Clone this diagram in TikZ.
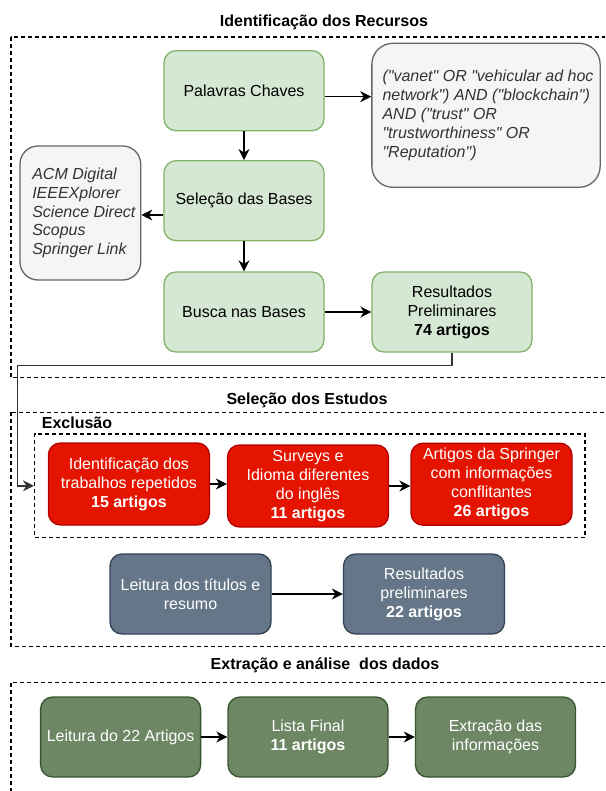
\documentclass[tikz,border=0pt]{standalone}
\usepackage{fontspec}
\setmainfont{Liberation Sans}[Ligatures=TeXOff]
\usetikzlibrary{arrows.meta}
\definecolor{lgfill}{HTML}{D5E8D4}\definecolor{lgdraw}{HTML}{82B366}
\definecolor{gyfill}{HTML}{F5F5F5}\definecolor{gydraw}{HTML}{666666}\definecolor{gytext}{HTML}{333333}
\definecolor{rdfill}{HTML}{E51400}\definecolor{rddraw}{HTML}{B20000}
\definecolor{slfill}{HTML}{647687}\definecolor{sldraw}{HTML}{314354}
\definecolor{dgfill}{HTML}{6D8764}\definecolor{dgdraw}{HTML}{3A5431}
\begin{document}
\begin{tikzpicture}[x=1pt,y=-1pt,
  base/.style={rounded corners=12pt, line width=1.3pt, minimum width=160pt, minimum height=80pt,
    inner sep=2pt, align=center, font=\fontsize{16}{19}\selectfont},
  lgbox/.style={base, fill=lgfill, draw=lgdraw, text=black},
  gybox/.style={base, fill=gyfill, draw=gydraw, text=gytext, align=left,
    font=\fontsize{16}{18.8}\selectfont\itshape},
  rdbox/.style={base, fill=rdfill, draw=rddraw, text=white, minimum width=161pt, minimum height=82pt},
  slbox/.style={base, fill=slfill, draw=sldraw, text=white, minimum width=161pt},
  dgbox/.style={base, fill=dgfill, draw=dgdraw, text=white},
  arr/.style={line width=1.3pt, -{Stealth[length=11pt,width=11pt,inset=3.5pt]}},
  frame/.style={draw=black, line width=1.1pt, dash pattern=on 4pt off 3pt},
  ttl/.style={font=\fontsize{16}{19}\selectfont\bfseries, inner sep=0pt}
]
\useasboundingbox (0,0) rectangle (605,791);
\clip (0,0) rectangle (605,791);

% section frames
\draw[frame] (11,37) rectangle (640,377.7);
\draw[frame] (11,412.3) rectangle (640,646.7);
\draw[frame] (11,682.7) rectangle (640,830);

% titles
\node[ttl] (t1) at (324,22.7) {Identificação dos Recursos};
\node[ttl] (t2) at (307,400) {Seleção dos Estudos};
\node[ttl] (t3) at (325,665) {Extração e análise\ \ dos dados};
\node[ttl, anchor=west] (t4) at (41.7,422.3) {Exclusão};

% identification
\node[lgbox] (pc) at (244,90.7) {Palavras Chaves};
\node[gybox, minimum width=228.3pt, minimum height=144pt, rounded corners=21pt] (query) at (486,115.3)
  {\hspace*{4pt}("vanet" OR "vehicular ad hoc\\\hspace*{4pt}network") AND ("blockchain")\\\hspace*{4pt}AND ("trust" OR\\\hspace*{4pt}"trustworthiness" OR\\\hspace*{4pt}"Reputation")};
\node[lgbox] (sel) at (244,200.7) {Seleção das Bases};
\node[gybox, minimum width=120.7pt, minimum height=134pt, rounded corners=18pt] (acm) at (80.35,213)
  {\hspace*{7pt}ACM Digital\\\hspace*{7pt}IEEEXplorer\\\hspace*{7pt}Science Direct\\\hspace*{7pt}Scopus\\\hspace*{7pt}Springer Link};
\node[lgbox] (busca) at (244,312) {Busca nas Bases};
\node[lgbox] (res) at (452,312) {Resultados\\Preliminares\\\textbf{74 artigos}};

\draw[arr] ([yshift=-6pt]pc.east) -- ([yshift=-6pt]pc.east -| query.west);
\draw[arr] (pc.south) -- (sel.north);
\draw[arr] ([yshift=-14.3pt]sel.west) -- ([yshift=-14.3pt]sel.west -| acm.east);
\draw[arr] (sel.south) -- (busca.north);
\draw[arr] (busca.east) -- (res.west);

% selection
\node[frame, inner sep=0pt, minimum width=550.5pt, minimum height=103.7pt] (excl) at (309.75,485.85) {};
\coordinate (c1) at (17.3,365.7);
\draw[arr, draw=gytext] (res.south) |- (c1) |- (excl.west);

\node[rdbox] (r1) at (128.9,484) {Identificação dos\\trabalhos repetidos\\\textbf{15 artigos}};
\node[rdbox] (r2) at (308,486) {Surveys e\\Idioma diferentes\\do inglês\\\textbf{11 artigos}};
\node[rdbox] (r3) at (491.5,484.2) {Artigos da Springer\\com informações\\conflitantes\\\textbf{26 artigos}};
\draw[arr] (r1.east) -- (r1.east -| r2.west);
\draw[arr] (r2.east) -- (r2.east -| r3.west);

\node[slbox] (s1) at (190.5,594) {Leitura dos títulos e\\resumo};
\node[slbox] (s2) at (424,594) {Resultados\\preliminares\\\textbf{22 artigos}};
\draw[arr] (s1.east) -- (s2.west);

% extraction
\node[dgbox] (d1) at (120.6,737) {Leitura do 22 Artigos};
\node[dgbox] (d2) at (308,737) {Lista Final\\\textbf{11 artigos}};
\node[dgbox] (d3) at (495.5,737) {Extração das\\informações};
\draw[arr] (d1.east) -- (d2.west);
\draw[arr] (d2.east) -- (d3.west);
\end{tikzpicture}
\end{document}
